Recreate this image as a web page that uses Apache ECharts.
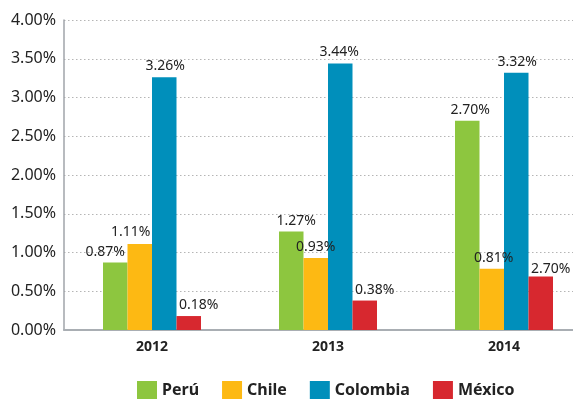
<!DOCTYPE html>
<html>
<head>
<meta charset="utf-8">
<style>html,body{margin:0;padding:0;background:#fff}#c{width:573px;height:399px}</style>
<script src="https://cdn.jsdelivr.net/npm/echarts@6/dist/echarts.min.js"></script>
</head>
<body>
<div id="c"></div>
<script>
var categories = ['2012', '2013', '2014'];
var seriesNames = ['Perú', 'Chile', 'Colombia', 'México'];
var peru = [0.87, 1.27, 2.70];
var chile = [1.11, 0.93, 0.79];
var colombia = [3.26, 3.44, 3.32];
var mexico = [0.18, 0.38, 0.69];
var peruLabels = ['0.87%', '1.27%', '2.70%'];
var chileLabels = ['1.11%', '0.93%', '0.81%'];
var colombiaLabels = ['3.26%', '3.44%', '3.32%'];
var mexicoLabels = ['0.18%', '0.38%', '2.70%'];
var yTicks = [0, 0.5, 1, 1.5, 2, 2.5, 3, 3.5, 4];

var colors = ['#8DC63F', '#FDB913', '#008FBB', '#D7282F'];
var allValues = [peru, chile, colombia, mexico];
var allLabels = [peruLabels, chileLabels, colombiaLabels, mexicoLabels];
// label horizontal nudges (style only)
var labelNudge = [[-10, 5, 3], [-9, 0, 2], [1, -1, 1], [10, 10, 10]];
var labelDist = [[4, 4, 4], [5, 4, 4], [4, 4, 4], [4, 4, 1]];

var chart = echarts.init(document.getElementById('c'), null, {renderer: 'canvas'});
var FONT = '"Noto Sans", "Open Sans", sans-serif';

var series = seriesNames.map(function (name, s) {
  return {
    name: name,
    type: 'bar',
    barWidth: 24.5,
    barGap: '0%',
    itemStyle: {color: colors[s]},
    data: allValues[s].map(function (v, i) {
      return {
        value: v,
        label: {
          show: true,
          position: 'top',
          distance: labelDist[s][i],
          offset: [labelNudge[s][i], 0],
          formatter: allLabels[s][i],
          fontFamily: FONT,
          fontSize: 14,
          color: '#222'
        }
      };
    })
  };
});

chart.setOption({
  animation: false,
  textStyle: {fontFamily: FONT},
  grid: {left: 64, right: -19, top: 20, bottom: 69, containLabel: false, outerBoundsMode: 'none'},
  legend: {
    data: seriesNames,
    left: 137,
    top: 381,
    padding: 0,
    itemWidth: 20,
    itemHeight: 18,
    itemGap: 23,
    icon: 'rect',
    textStyle: {fontFamily: FONT, fontSize: 16, fontWeight: 'bold', color: '#222', padding: [0, 0, 0, 0]}
  },
  xAxis: {
    type: 'category',
    data: categories,
    axisLine: {lineStyle: {color: '#a9aeb3', width: 2}},
    axisTick: {show: false},
    axisLabel: {fontFamily: FONT, fontSize: 14, fontWeight: 'bold', color: '#222', margin: 10}
  },
  yAxis: {
    type: 'value',
    min: yTicks[0],
    max: yTicks[yTicks.length - 1],
    interval: 0.5,
    axisLine: {show: true, lineStyle: {color: '#a0a5aa', width: 1.5}},
    axisTick: {show: false},
    splitLine: {lineStyle: {color: '#b5b5b5', type: [1.5, 2.5], width: 1}},
    axisLabel: {
      fontFamily: FONT, fontSize: 16, color: '#222', margin: 8,
      formatter: function (v) { return v.toFixed(2) + '%'; }
    }
  },
  series: series
});
</script>
</body>
</html>
